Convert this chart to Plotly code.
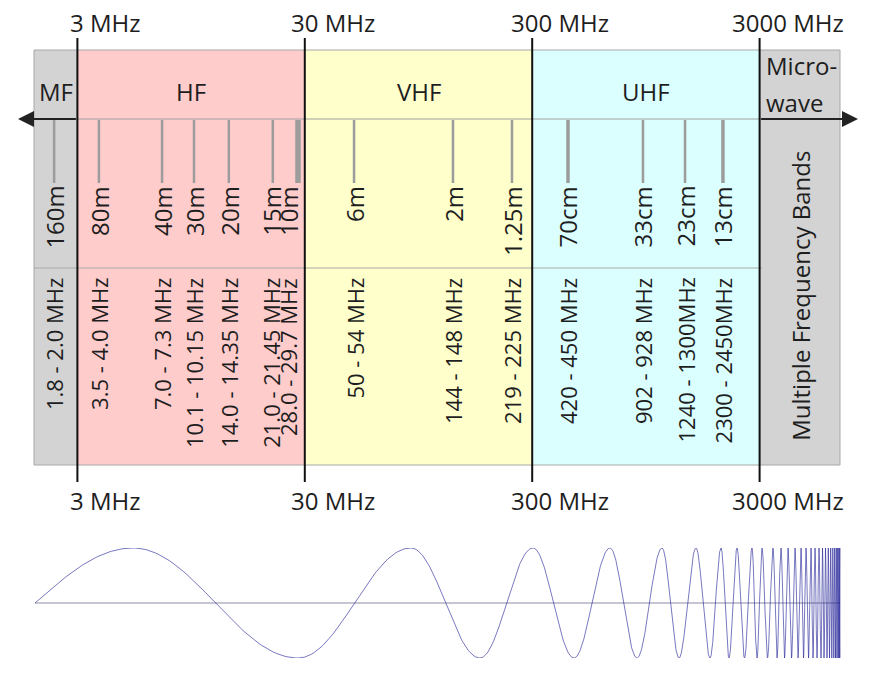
import numpy as np
import plotly.graph_objects as go

# frequency bands (MHz edges between them)
band_names = ["MF", "HF", "VHF", "UHF"]
band_edges_mhz = [3, 30, 300, 3000]
band_colors = ["#d3d3d3", "#ffcccc", "#ffffcc", "#dbffff", "#d3d3d3"]
edge_labels = ["3 MHz", "30 MHz", "300 MHz", "3000 MHz"]

# amateur bands: name, allocation, where the marker sits on the chart's scale (MHz)
ham_names = ["160m", "80m", "40m", "30m", "20m", "15m", "10m",
             "6m", "2m", "1.25m", "70cm", "33cm", "23cm", "13cm"]
ham_ranges = ["1.8 - 2.0 MHz", "3.5 - 4.0 MHz", "7.0 - 7.3 MHz", "10.1 - 10.15 MHz",
              "14.0 - 14.35 MHz", "21.0 - 21.45 MHz", "28.0 - 29.7 MHz",
              "50 - 54 MHz", "144 - 148 MHz", "219 - 225 MHz",
              "420 - 450 MHz", "902 - 928 MHz", "1240 - 1300MHz", "2300 - 2450MHz"]
ham_mark_mhz = [2.37, 3.73, 7.07, 9.77, 13.9, 21.7, 28.0,
                49.4, 134.5, 244.5, 431, 921, 1410, 2070]

# chirp sketch under the chart: crests/troughs (alternating, crest first)
wave_start = 35
wave_extrema = [133, 298, 411, 480, 533, 574, 610, 637, 662, 679, 696, 710,
                721, 729, 737, 744.5, 752, 757, 762, 767.5, 773, 777, 781, 784.5,
                788, 791.5, 795, 798, 801, 803.5, 806, 808.5, 811, 813, 815, 817,
                819, 821, 822.5, 824, 825.5, 827, 828.3, 829.5, 830.7, 831.8,
                832.8, 833.8, 834.7, 835.5, 836.3, 837, 837.7, 838.3, 838.9,
                839.4, 839.8, 840]

W, H = 870, 676
SLOPE, OFFSET = 227.4, -31.1      # screen px per decade of MHz


def at(px):
    # screen column -> log10(MHz) on the main axis
    return (px - OFFSET) / SLOPE


FONT = "Open Sans"
INK = "#1e1e1e"

line_width = {"10m": 5.5, "70cm": 3.5, "13cm": 3.5}
label_nudge = {"15m": -2, "10m": -10}

fig = go.Figure()

# amateur band markers
for name, mhz in zip(ham_names, ham_mark_mhz):
    lx = np.log10(mhz)
    fig.add_trace(go.Scatter(
        x=[lx, lx], y=[120, 183], mode="lines",
        line=dict(color="#9c9c9c", width=line_width.get(name, 2.5)),
        hoverinfo="skip", showlegend=False,
    ))

# chirp wave
xs, ys = [], []
t = np.linspace(0, 1, 60)
xs += list(wave_start + (wave_extrema[0] - wave_start) * t)
ys += list(np.sin(np.pi / 2 * t))
sign = 1
for a, b in zip(wave_extrema[:-1], wave_extrema[1:]):
    tt = t[1:]
    xs += list(a + (b - a) * tt)
    ys += list(sign * np.cos(np.pi * tt))
    sign = -sign
fig.add_trace(go.Scatter(
    x=xs, y=ys, xaxis="x2", yaxis="y2", mode="lines",
    line=dict(color="rgba(30,30,150,0.6)", width=1),
    hoverinfo="skip", showlegend=False,
))

shapes = []
annotations = []

# colored band backgrounds
extents = [at(34)] + [np.log10(e) for e in band_edges_mhz] + [at(840)]
for i, col in enumerate(band_colors):
    shapes.append(dict(type="rect", xref="x", yref="y", x0=extents[i], x1=extents[i + 1],
                       y0=50, y1=465, fillcolor=col, line_width=0, layer="below"))
shapes.append(dict(type="rect", xref="x", yref="y", x0=at(34), x1=at(840), y0=50, y1=465,
                   line=dict(color="#a8a8a8", width=1), layer="below"))
shapes.append(dict(type="line", xref="x", yref="y", x0=at(34), x1=at(840), y0=119, y1=119,
                   line=dict(color="#a0a0a0", width=1), layer="below"))
shapes.append(dict(type="line", xref="x", yref="y", x0=at(34), x1=at(762), y0=268, y1=268,
                   line=dict(color="#a8a8a8", width=1), layer="below"))

# decade boundaries
for e, lab in zip(band_edges_mhz, edge_labels):
    lx = np.log10(e)
    shapes.append(dict(type="line", xref="x", yref="y", x0=lx, x1=lx, y0=38, y1=482,
                       line=dict(color="#111111", width=2)))
    for yy in (22, 500):
        annotations.append(dict(x=lx, y=yy, xref="x", yref="y", text=lab, showarrow=False,
                                xshift=28, font=dict(family=FONT, size=24, color=INK)))

# band names
for i, name in enumerate(band_names):
    annotations.append(dict(x=(extents[i] + extents[i + 1]) / 2, y=91, xref="x", yref="y",
                            text=name, showarrow=False,
                            font=dict(family=FONT, size=24, color=INK)))
for txt, yy in (("Micro-", 65), ("wave", 102)):
    annotations.append(dict(x=at(764), y=yy, xref="x", yref="y", text=txt, showarrow=False,
                            xanchor="left", font=dict(family=FONT, size=24, color=INK)))
annotations.append(dict(x=(extents[4] + extents[5]) / 2, y=296, xref="x", yref="y",
                        text="Multiple Frequency Bands", textangle=-90, showarrow=False,
                        font=dict(family=FONT, size=24, color=INK)))

# amateur band labels
for name, rng, mhz in zip(ham_names, ham_ranges, ham_mark_mhz):
    lx = np.log10(mhz)
    nudge = label_nudge.get(name, 0)
    annotations.append(dict(x=lx, y=184, xref="x", yref="y", text=name, textangle=-90,
                            yanchor="top", showarrow=False, xshift=nudge,
                            font=dict(family=FONT, size=24, color=INK)))
    annotations.append(dict(x=lx, y=276, xref="x", yref="y", text=rng, textangle=-90,
                            yanchor="top", showarrow=False, xshift=nudge,
                            font=dict(family=FONT, size=22, color=INK)))

# direction arrows
for tail, head in ((np.log10(band_edges_mhz[0]), at(18)), (np.log10(band_edges_mhz[-1]), at(858))):
    annotations.append(dict(x=head, y=119, ax=tail, ay=119, xref="x", yref="y",
                            axref="x", ayref="y", text="", showarrow=True,
                            arrowhead=2, arrowsize=1.6, arrowwidth=2, arrowcolor="#222222"))

# wave baseline
shapes.append(dict(type="line", xref="x2", yref="y2", x0=wave_start, x1=840, y0=0, y1=0,
                   line=dict(color="#8c8ca4", width=1), layer="below"))

fig.update_layout(
    width=W, height=H,
    margin=dict(l=0, r=0, t=0, b=0),
    paper_bgcolor="white", plot_bgcolor="rgba(0,0,0,0)",
    xaxis=dict(range=[at(0), at(W)], visible=False, domain=[0, 1], anchor="y"),
    yaxis=dict(range=[H, 0], visible=False, domain=[0, 1], anchor="x"),
    xaxis2=dict(range=[0, W], visible=False, domain=[0, 1], anchor="y2"),
    yaxis2=dict(range=[-1, 1], visible=False, domain=[18 / H, 128 / H], anchor="x2"),
    shapes=shapes,
    annotations=annotations,
    showlegend=False,
)

fig.write_html("out.html", config={"displayModeBar": False},
               post_script="document.body.style.margin='0';")
